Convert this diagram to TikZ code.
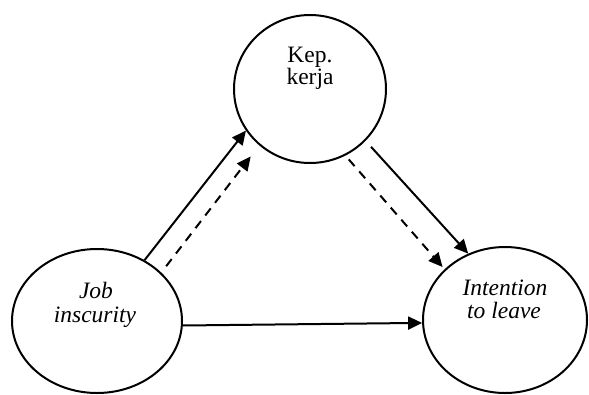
\documentclass[tikz,border=0pt]{standalone}
\usepackage{fontspec}
\setmainfont{Liberation Serif}
\usetikzlibrary{shapes.geometric,arrows.meta}
\begin{document}
\begin{tikzpicture}[x=1pt,y=-1pt,
  bubble/.style={ellipse,draw,line width=2pt,inner sep=0pt},
  lbl/.style={anchor=base,inner sep=0pt,font=\fontsize{23.5}{24}\selectfont},
  conn/.style={line width=2pt,-{Triangle[length=14pt,width=13pt]}},
  dconn/.style={conn,dash pattern=on 9pt off 7pt}]
\useasboundingbox (0,0) rectangle (589,394);
\node[bubble,minimum width=152pt,minimum height=148pt] (T) at (310,89) {};
\node[bubble,minimum width=170pt,minimum height=144pt] (L) at (97,321) {};
\node[bubble,minimum width=164pt,minimum height=146pt] (R) at (505,320) {};
\node[lbl] (t1) at (310,62) {Kep.};
\node[lbl] (t2) at (310,84) {kerja};
\node[lbl] (l1) at (96,298) {\itshape Job};
\node[lbl] (l2) at (95,322) {\itshape inscurity};
\node[lbl] (r1) at (505,295) {\itshape Intention};
\node[lbl] (r2) at (504,318) {\itshape to leave};
\draw[conn] (L.52) -- (T.213);
\draw[dconn,shorten <=8pt,shorten >=14pt] (L.37) -- (T.228);
\draw[conn,shorten <=8pt] (T.317) -- (R.119);
\draw[dconn,shorten <=5pt,shorten >=3pt] (T.298) -- (R.140);
\draw[conn] (L.-3) -- (R.182);
\end{tikzpicture}
\end{document}
